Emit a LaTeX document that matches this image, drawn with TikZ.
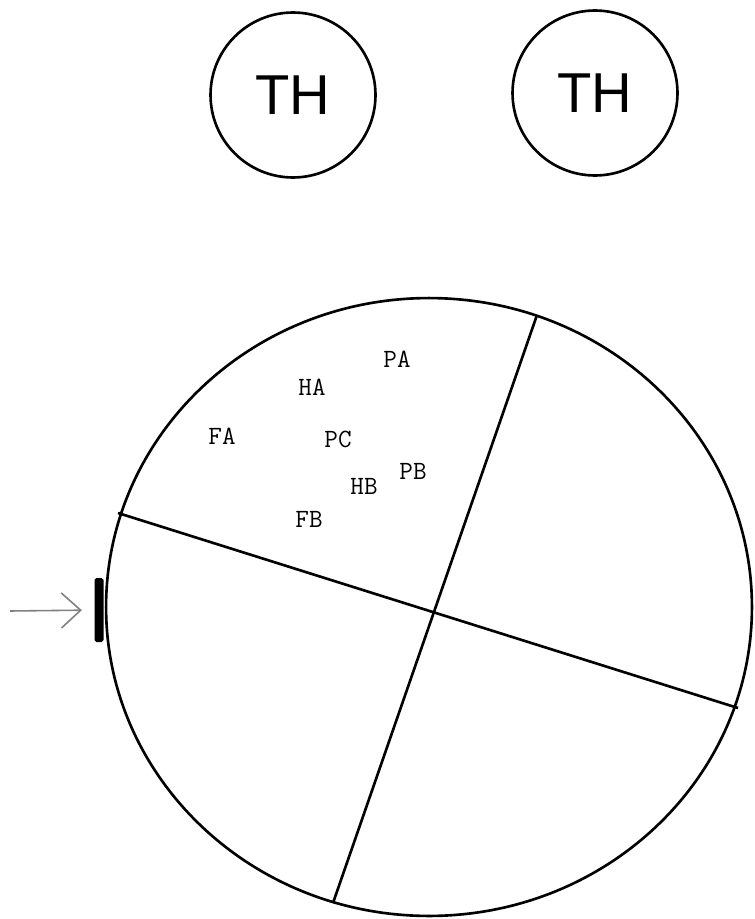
\documentclass[tikz,border=0pt]{standalone}
\usepackage{fontspec}
\setsansfont{Liberation Sans}
\usepackage{tikz}
\usetikzlibrary{arrows.meta, positioning}

\begin{document}
\begin{tikzpicture}[
  x=0.02cm, y=-0.02cm,
  thnode/.style={circle, draw, line width=1.5pt, minimum size=3.3cm, inner sep=0pt, font=\sffamily\fontsize{32}{32}\selectfont},
  spot/.style={inner sep=0pt, font=\ttfamily\fontsize{15}{15}\selectfont},
  divider/.style={line width=1.5pt},
  pointer/.style={-{Straight Barb[length=11pt, width=20pt]}, gray, line width=0.9pt}
]
  \useasboundingbox (0,0) rectangle (754,919);
  % TH circles
  \node[thnode] (th1) at (293,95) {TH};
  \node[thnode] (th2) at (595,93) {TH};
  % Big circle and its quarters
  \draw[divider] (429,607) ellipse [x radius=6.46cm, y radius=6.18cm];
  \coordinate (top) at (537,315);
  \coordinate (bottom) at (333,903);
  \coordinate (left) at (118,513);
  \coordinate (right) at (738,708);
  \draw[divider] (top) -- (bottom);
  \draw[divider] (left) -- (right);
  % Labels
  \node[spot] (pa) at (397,359) {PA};
  \node[spot] (ha) at (312,387) {HA};
  \node[spot] (fa) at (222,436) {FA};
  \node[spot] (pc) at (338,439) {PC};
  \node[spot] (pb) at (413,471) {PB};
  \node[spot] (hb) at (364,486) {HB};
  \node[spot] (fb) at (309,519) {FB};
  % Marker and arrow
  \node[rectangle, fill=black, rounded corners=1pt, minimum width=0.18cm, minimum height=1.28cm, inner sep=0pt] (marker) at (99,610) {};
  \coordinate (src) at (10,611);
  \draw[pointer, shorten >=7pt] (src) -- (marker);
\end{tikzpicture}
\end{document}
